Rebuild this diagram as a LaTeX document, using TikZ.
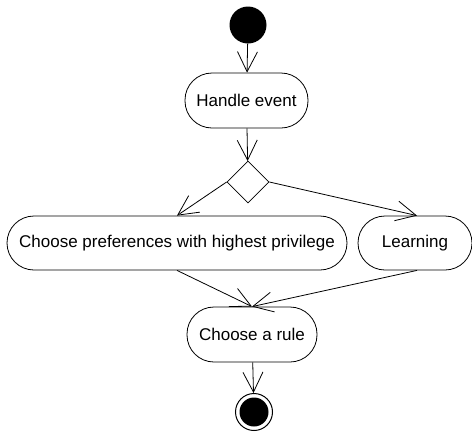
\documentclass[tikz,border=0pt]{standalone}
\usepackage{fontspec}
\setmainfont{Liberation Sans}
\usetikzlibrary{arrows.meta,shapes.geometric}
\begin{document}
\begin{tikzpicture}[x=1pt,y=-1pt,
  action/.style={draw,line width=0.8pt,rounded corners=27pt,minimum height=55pt,
    inner sep=0pt,font=\fontsize{17}{20}\selectfont},
  flow/.style={line width=0.8pt,-{Straight Barb[length=20pt,width=20pt,line width=0.8pt]}},
  plain/.style={line width=0.8pt}]
\useasboundingbox (0,0) rectangle (472,432);
% initial node
\node[circle,fill=black,minimum size=37pt,inner sep=0pt] (start) at (248,25) {};
% actions
\node[action,minimum width=123pt] (handle) at (246.5,100.5) {Handle event};
\node[draw,diamond,line width=0.8pt,minimum width=42pt,minimum height=42pt,inner sep=0pt] (dec) at (248,182) {};
\node[action,minimum width=340pt,minimum height=54pt] (pref) at (177,243) {Choose preferences with highest privilege};
\node[action,minimum width=114pt,minimum height=54pt] (learn) at (415,243) {Learning};
\node[action,minimum width=130pt] (rule) at (252,334.5) {Choose a rule};
% final node
\node[circle,draw,line width=1pt,minimum size=37pt,inner sep=0pt] (end) at (254,412) {};
\fill (end.center) circle (14.5pt);
% control flow
\draw[flow] (start) -- (handle);
\draw[flow] (handle) -- (dec);
\draw[flow] (dec.west) -- (pref.north);
\draw[flow] (dec.east) -- ([xshift=2pt]learn.north);
\draw[flow] (pref.south) -- (rule.north);
\draw[flow] ([xshift=2pt]learn.south) -- (rule.north);
\draw[flow] (rule) -- (end);
\end{tikzpicture}
\end{document}
